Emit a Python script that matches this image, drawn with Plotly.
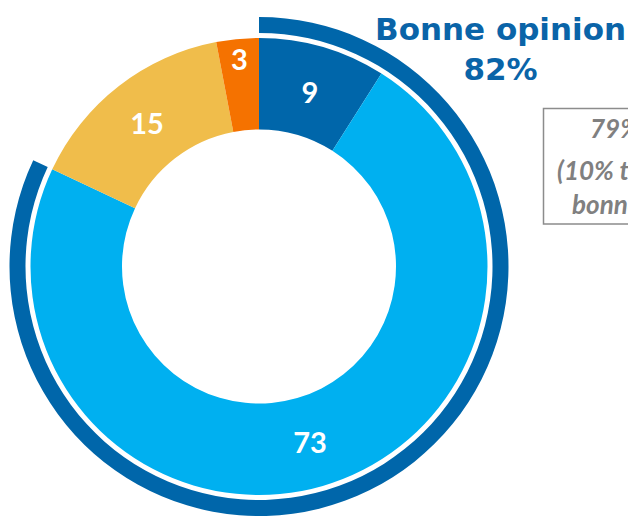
import plotly.graph_objects as go

# Data
categories = ["Très bonne opinion", "Assez bonne opinion", "Assez mauvaise opinion", "Très mauvaise opinion"]
values = [9, 73, 15, 3]
colors = ["#0066AA", "#00B0F0", "#F0BD4B", "#F57200"]

good_total = values[0] + values[1]          # 82
arc_values = [good_total, 100 - good_total]

title_lines = ["Bonne opinion", f"{good_total}%"]
box_lines = ["79% en 2019", "(10% très", "bonne opinion)"]

# page body has an 8px margin: figure sized to fit the viewport
OFF = 8
W, H = 636 - OFF, 516 - OFF


def px(x, y):
    return (x - OFF) / W, 1 - (y - OFF) / H


fig = go.Figure()

cx, cy = 259 - OFF, 266.5 - OFF
r_arc, r_out, r_in, r_arc_in = 249.5, 228.5, 137, 233.5


def dom(r):
    return dict(x=[(cx - r) / W, (cx + r) / W],
                y=[max(0, (H - cy - r) / H), min(1, (H - cy + r) / H)])


# outer arc (bonne opinion)
fig.add_trace(go.Pie(
    values=arc_values,
    labels=["Bonne opinion", "Autre"],
    marker=dict(colors=["#0066AA", "rgba(0,0,0,0)"], line=dict(width=0)),
    hole=r_arc_in / r_arc,
    sort=False, direction="clockwise", rotation=0,
    textinfo="none", hoverinfo="skip", showlegend=False,
    domain=dom(r_arc),
))

fig.add_trace(go.Pie(
    values=values,
    labels=categories,
    marker=dict(colors=colors, line=dict(width=0)),
    hole=r_in / r_out,
    sort=False, direction="clockwise", rotation=0,
    textinfo="value", textposition="inside",
    insidetextorientation="horizontal",
    textfont=dict(family="Lato", size=29, color="white", weight="bold"),
    showlegend=False,
    domain=dom(r_out),
))

# title
tx, ty = px(500, 49)
fig.add_annotation(
    x=tx, y=ty, xref="paper", yref="paper",
    xanchor="center", yanchor="middle", showarrow=False,
    text="<br>".join(title_lines),
    font=dict(family="DejaVu Sans", size=31, color="#0A64A8", weight="bold"),
    align="center",
)

# comparison box
bx0, by1 = px(543.5, 108.5)
_, by0 = px(543.5, 224)
fig.add_shape(type="rect", xref="paper", yref="paper",
              x0=bx0, x1=1.3, y0=by0, y1=by1,
              line=dict(color="#8C8C8C", width=1.5), fillcolor="rgba(0,0,0,0)")

line_x = [588, 555, 570]
line_y = [128, 170, 204]
for t, lx, ly in zip(box_lines, line_x, line_y):
    ax, ay = px(lx, ly)
    fig.add_annotation(
        x=ax, y=ay, xref="paper", yref="paper",
        xanchor="left", yanchor="middle", showarrow=False,
        text=t,
        font=dict(family="Lato", size=26, color="#808080", weight="bold", style="italic"),
    )

fig.update_layout(
    width=W, height=H, autosize=False,
    margin=dict(l=0, r=0, t=0, b=0),
    paper_bgcolor="white", plot_bgcolor="white",
    uniformtext=dict(minsize=29, mode="show"),
)

fig.write_html("out.html")
